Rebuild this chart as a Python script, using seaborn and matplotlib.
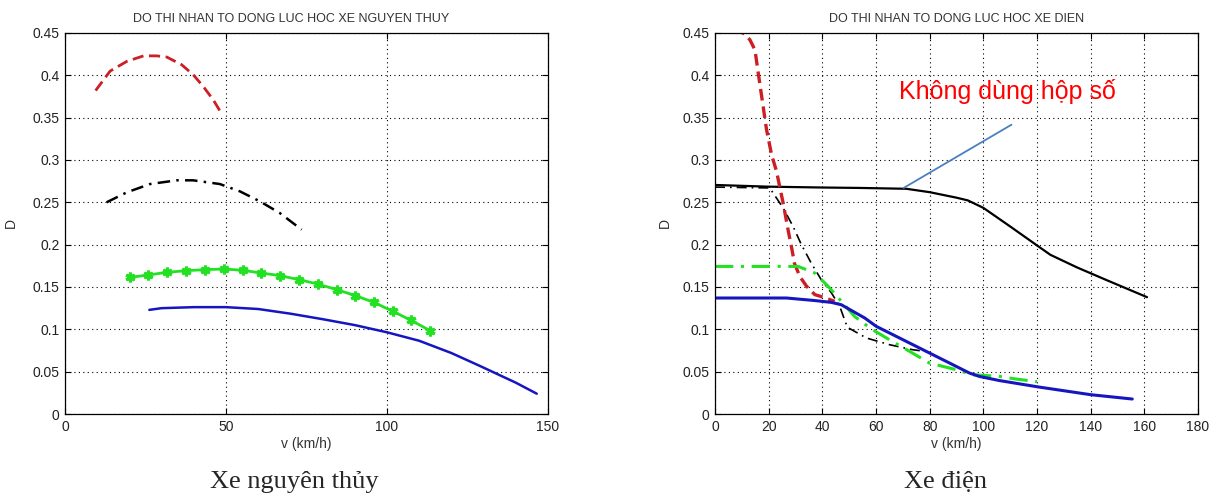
import numpy as np
import pandas as pd
import matplotlib
matplotlib.use("Agg")
import matplotlib.pyplot as plt
import seaborn as sns

# ---- Xe nguyen thuy (left) ----
l_red_v = [9.5, 14.0, 19.2, 24.4, 28.5, 31.6, 36.2, 39.8, 42.9, 46.0, 48.2]
l_red_d = [0.382, 0.405, 0.4165, 0.423, 0.423, 0.4216, 0.4126, 0.4008, 0.387, 0.3713, 0.3575]

l_blk_v = [12.9, 19.2, 26.4, 34.7, 39.8, 48.1, 54.3, 60.5, 66.7, 73.5]
l_blk_d = [0.250, 0.2618, 0.2716, 0.276, 0.276, 0.2716, 0.263, 0.2512, 0.2374, 0.2177]

l_grn_v = [20.2, 25.9, 31.6, 37.6, 43.5, 49.4, 55.2, 61.0, 66.8, 72.7, 78.5, 84.4,
           90.2, 95.9, 101.8, 107.5, 113.4]
l_grn_d = [0.1614, 0.1642, 0.1673, 0.1693, 0.1705, 0.1713, 0.1697, 0.1665, 0.1634,
           0.1587, 0.1535, 0.1469, 0.1398, 0.1319, 0.1213, 0.1106, 0.0984]

l_blu_v = [26.2, 30, 40, 50, 60, 70, 80, 90, 100, 110, 120, 129, 140, 146.5]
l_blu_d = [0.123, 0.125, 0.1262, 0.1262, 0.124, 0.1185, 0.112, 0.105, 0.0965,
           0.0865, 0.072, 0.0565, 0.037, 0.024]

# ---- Xe dien (right) ----
r_red_v = [7, 11, 13, 14.9, 16.1, 17.4, 19.2, 21.1, 22.9, 25.4, 27.2, 28.7, 29.6,
           31.6, 34.1, 37.2, 40.3, 44.6]
r_red_d = [0.455, 0.449, 0.442, 0.430, 0.403, 0.375, 0.336, 0.306, 0.287, 0.249,
           0.218, 0.194, 0.178, 0.1625, 0.151, 0.141, 0.138, 0.133]

r_blkdd_v = [0, 10, 20.4, 25.4, 29.1, 32.2, 35.9, 39.6, 43.4, 46.5, 49.3, 56.4,
             65.1, 73.7, 78.5]
r_blkdd_d = [0.268, 0.2675, 0.267, 0.2433, 0.2215, 0.200, 0.178, 0.1586, 0.143,
             0.127, 0.1025, 0.0898, 0.0818, 0.0759, 0.0739]

r_grn_v = [0, 10, 20, 31, 37.2, 42.2, 47.4, 52, 58, 65, 72.5, 79.9, 89.9, 96,
           106, 112.2, 120]
r_grn_d = [0.1743, 0.1743, 0.1743, 0.1743, 0.1665, 0.1507, 0.132, 0.1153, 0.101,
           0.0877, 0.074, 0.0602, 0.0523, 0.0464, 0.0444, 0.0413, 0.0382]

r_blu_v = [0, 10, 20, 26.6, 37.2, 43.4, 47.1, 55.8, 60.1, 68.8, 78.7, 87.4, 94.8,
           98.5, 106, 120.6, 140, 155.5]
r_blu_d = [0.137, 0.137, 0.137, 0.137, 0.134, 0.1318, 0.129, 0.1134, 0.1035,
           0.0897, 0.074, 0.0602, 0.0484, 0.0444, 0.0395, 0.0319, 0.0228, 0.0177]

r_blk_v = [0, 10, 20, 30, 40, 54, 71.3, 80, 90, 94.2, 100, 110, 120.5, 125, 135,
           145.6, 161]
r_blk_d = [0.2705, 0.2695, 0.2685, 0.268, 0.2675, 0.267, 0.266, 0.262, 0.2555,
           0.2523, 0.2435, 0.2215, 0.198, 0.188, 0.173, 0.1586, 0.138]

annot_text = "Không dùng hộp số"
annot_line_v = [70.3, 110.5]
annot_line_d = [0.267, 0.3417]

sns.set_style("white")
plt.rcParams["font.family"] = ["Liberation Sans", "DejaVu Sans"]

fig = plt.figure(figsize=(12.2, 4.97), dpi=100)
ax1 = fig.add_axes([65 / 1220, 83 / 497, 483 / 1220, 381 / 497])
ax2 = fig.add_axes([715 / 1220, 83 / 497, 483 / 1220, 381 / 497])

RED = "#cc1f24"
GREEN = "#22e022"
BLUE = "#1616c0"

# left
sns.lineplot(x=l_red_v, y=l_red_d, ax=ax1, color=RED, lw=2.0, linestyle=(0, (4, 2)))
sns.lineplot(x=l_blk_v, y=l_blk_d, ax=ax1, color="black", lw=1.8, linestyle=(0, (5, 2.5, 1, 2.5)))
sns.lineplot(x=l_grn_v, y=l_grn_d, ax=ax1, color=GREEN, lw=2.0, marker=(6, 2, 0),
             markersize=7, markeredgewidth=2.2, markeredgecolor=GREEN)
sns.lineplot(x=l_blu_v, y=l_blu_d, ax=ax1, color=BLUE, lw=1.8)

# right
sns.lineplot(x=r_blk_v, y=r_blk_d, ax=ax2, color="black", lw=1.6)
sns.lineplot(x=r_blkdd_v, y=r_blkdd_d, ax=ax2, color="black", lw=1.2, linestyle=(0, (6, 3, 1, 3)))
sns.lineplot(x=r_red_v, y=r_red_d, ax=ax2, color=RED, lw=2.4, linestyle=(0, (3.5, 1.8)))
sns.lineplot(x=r_grn_v, y=r_grn_d, ax=ax2, color=GREEN, lw=2.2, linestyle=(0, (6, 2.5, 1, 2.5)))
sns.lineplot(x=r_blu_v, y=r_blu_d, ax=ax2, color=BLUE, lw=2.2)
ax2.plot(annot_line_v, annot_line_d, color="#4a7fc1", lw=1.3)
ax2.text(68.5, 0.381, annot_text, color="red", fontsize=18, va="center", ha="left")

for ax, xmax, xt, title, tx in [
    (ax1, 150, [0, 50, 100, 150], "DO THI NHAN TO DONG LUC HOC XE NGUYEN THUY", 0.468),
    (ax2, 180, list(range(0, 181, 20)), "DO THI NHAN TO DONG LUC HOC XE DIEN", 0.5),
]:
    ax.set_xlim(0, xmax)
    ax.set_ylim(0, 0.45)
    ax.set_xticks(xt)
    ax.set_yticks(np.arange(0, 0.451, 0.05))
    ax.set_yticklabels(["0", "0.05", "0.1", "0.15", "0.2", "0.25", "0.3", "0.35", "0.4", "0.45"])
    ax.grid(True, color="black", linestyle=(0, (1, 3)), lw=0.8)
    ax.tick_params(direction="in", length=4, width=0.8, top=True, right=True,
                   bottom=True, left=True, labelsize=10, colors="black",
                   labelcolor="#222222", pad=4)
    for s in ax.spines.values():
        s.set_color("black")
        s.set_linewidth(0.9)
    ax.set_title(title, fontsize=9, color="#333333", pad=8, x=tx)
    ax.set_xlabel("v (km/h)", fontsize=10, color="#333333")
    ax.set_ylabel("D", fontsize=10, color="#333333")
    ax.xaxis.set_label_coords(0.5, -0.06)

ax1.yaxis.set_label_coords(-0.097, 0.5)
ax2.yaxis.set_label_coords(-0.089, 0.5)

fig.text(0.241, 0.018, "Xe nguyên thủy", family=["Liberation Serif", "DejaVu Serif"],
         fontsize=19, ha="center", va="baseline")
fig.text(0.775, 0.018, "Xe điện", family=["Liberation Serif", "DejaVu Serif"],
         fontsize=19, ha="center", va="baseline")

fig.savefig("out.png", dpi=100)
